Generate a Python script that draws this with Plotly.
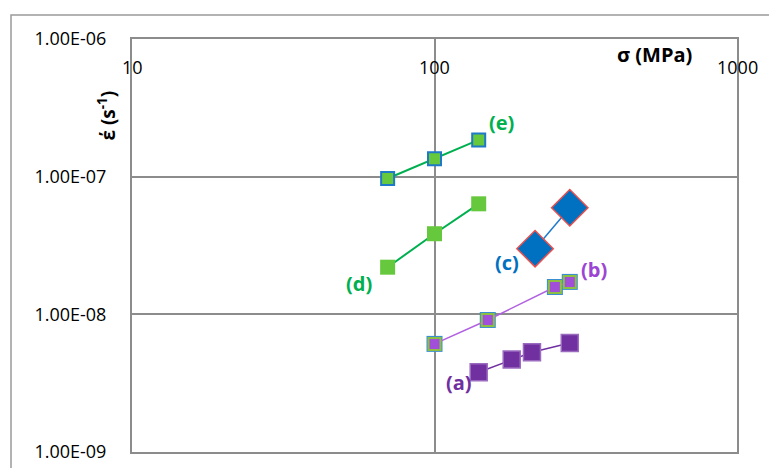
import math
import plotly.graph_objects as go

# Stress (MPa) and strain rate (1/s) for each series
sigma_a = [140, 180, 210, 280]
rate_a = [3.8e-9, 4.7e-9, 5.3e-9, 6.2e-9]

sigma_b = [100, 150, 250, 280]
rate_b = [6.1e-9, 9.1e-9, 1.58e-8, 1.72e-8]

sigma_c = [215, 280]
rate_c = [3.0e-8, 5.95e-8]

sigma_d = [70, 100, 140]
rate_d = [2.2e-8, 3.85e-8, 6.35e-8]

sigma_e = [70, 100, 140]
rate_e = [9.7e-8, 1.35e-7, 1.85e-7]

x_tickvals = [10, 100, 1000]
x_ticktext = ["10", "100", "1000"]
y_tickvals = [1e-9, 1e-8, 1e-7, 1e-6]
y_ticktext = ["1.00E-09", "1.00E-08", "1.00E-07", "1.00E-06"]

series_labels = ["(a)", "(b)", "(c)", "(d)", "(e)"]

FONT = "Open Sans"
GREEN_LINE = "#00B050"
GREEN_FILL = "#66C83C"
BLUE = "#0070C0"
PURPLE_DARK = "#7030A0"
PURPLE_LIGHT = "#A14FD8"

fig = go.Figure()

# (e)
fig.add_trace(go.Scatter(
    x=sigma_e, y=rate_e, mode="lines+markers",
    line=dict(color=GREEN_LINE, width=2),
    marker=dict(symbol="square", size=13, color=GREEN_FILL,
                line=dict(color="#1F78C8", width=2)),
))
# (d)
fig.add_trace(go.Scatter(
    x=sigma_d, y=rate_d, mode="lines+markers",
    line=dict(color=GREEN_LINE, width=2),
    marker=dict(symbol="square", size=15, color=GREEN_FILL),
))
# (c)
fig.add_trace(go.Scatter(
    x=sigma_c, y=rate_c, mode="lines+markers",
    line=dict(color="#1F7ACB", width=1.5),
    marker=dict(symbol="diamond", size=28, color=BLUE,
                line=dict(color="#E8504F", width=1.5)),
))
# (b): blue rim underneath the green-edged purple squares
fig.add_trace(go.Scatter(
    x=sigma_b, y=rate_b, mode="markers",
    marker=dict(symbol="square", size=16, color="#3A8FD0"),
))
fig.add_trace(go.Scatter(
    x=sigma_b, y=rate_b, mode="lines+markers",
    line=dict(color="#B060E0", width=1.5),
    marker=dict(symbol="square", size=12, color=PURPLE_LIGHT,
                line=dict(color="#8DC042", width=2)),
))
# (a)
fig.add_trace(go.Scatter(
    x=sigma_a, y=rate_a, mode="lines+markers",
    line=dict(color=PURPLE_DARK, width=1.5),
    marker=dict(symbol="square", size=17, color=PURPLE_DARK,
                line=dict(color="#9B6BC0", width=1.5)),
))


def note(x, y, text, size, color, xref="paper", angle=0):
    fig.add_annotation(x=x, y=y, xref=xref, yref="paper", text=text, textangle=angle,
                       xanchor="center", yanchor="middle", showarrow=False,
                       font=dict(family=FONT, size=size, color=color))


label_specs = [
    (series_labels[0], 0.540, 0.169, PURPLE_DARK),
    (series_labels[1], 0.764, 0.441, "#9B45D4"),
    (series_labels[2], 0.620, 0.460, BLUE),
    (series_labels[3], 0.375, 0.409, GREEN_LINE),
    (series_labels[4], 0.610, 0.799, GREEN_LINE),
]
for text, px, py, col in label_specs:
    note(px, py, f"<b>{text}</b>", 20, col)

# x tick labels sit just under the top axis line, inside the plot
for v, t in zip(x_tickvals, x_ticktext):
    note(math.log10(v), 0.932, t, 18, "black", xref="x")

# axis titles
note(0.864, 0.963, "<b>σ (MPa)</b>", 20, "black")
note(-0.041, 0.815, "<b>έ (s<sup>-1</sup>)</b>", 19, "black", angle=-90)

# outer chart frame
fig.add_shape(type="rect", xref="paper", yref="paper", x0=-0.2, x1=1.3, y0=-0.3, y1=1.058,
              line=dict(color="#9a9a9a", width=1.5), layer="below")

fig.update_xaxes(
    type="log", range=[1, 3], side="top",
    tickvals=x_tickvals, ticks="", showticklabels=False, automargin=False,
    showgrid=True, gridcolor="#8c8c8c", gridwidth=1.5,
    showline=True, mirror=True, linecolor="#8c8c8c", linewidth=2,
    zeroline=False,
)
fig.update_yaxes(
    type="log", range=[-9, -6], automargin=False,
    tickvals=y_tickvals, ticktext=y_ticktext, ticks="",
    ticklabelstandoff=20,
    tickfont=dict(family=FONT, size=18, color="black"),
    showgrid=True, gridcolor="#8c8c8c", gridwidth=1.5,
    showline=True, mirror=True, linecolor="#8c8c8c", linewidth=2,
    zeroline=False,
)

fig.update_layout(
    width=769, height=468,
    margin=dict(l=132, r=32, t=39, b=16),
    paper_bgcolor="white", plot_bgcolor="white",
    showlegend=False,
)

fig.write_html("out.html")
